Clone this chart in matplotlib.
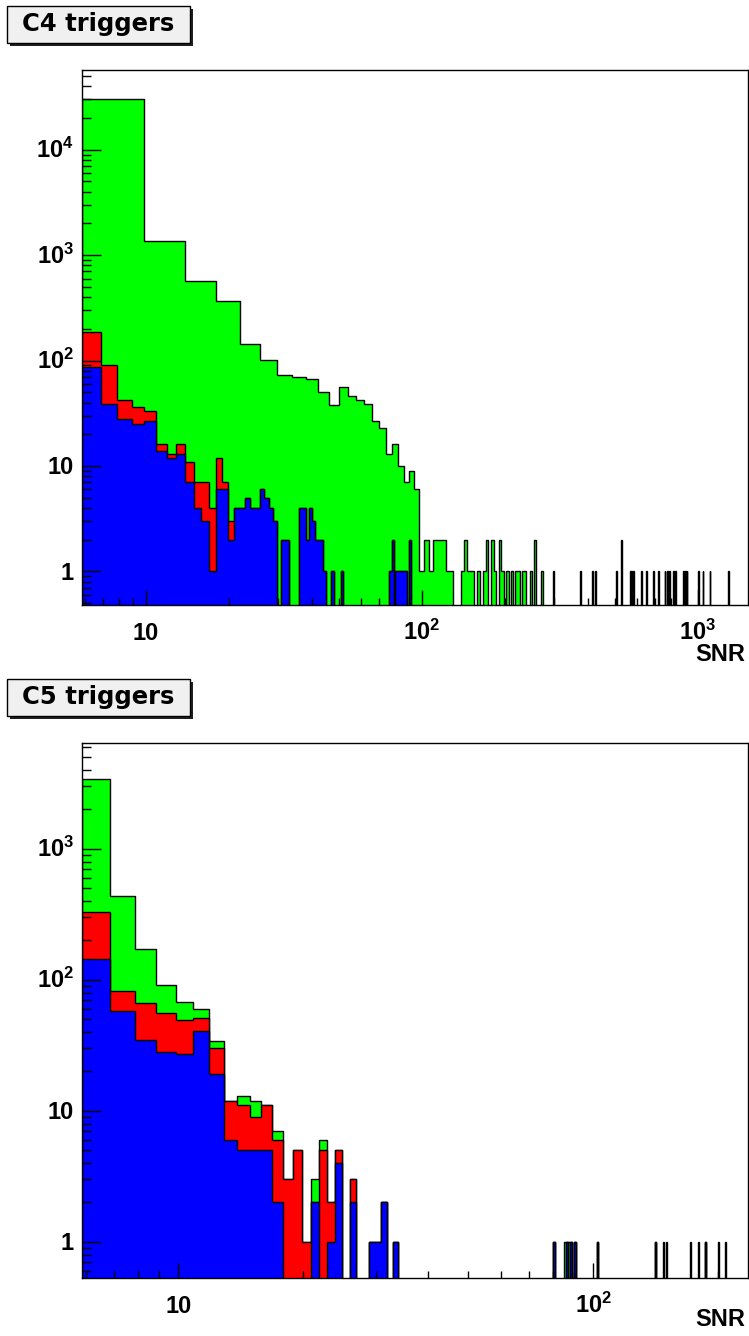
import numpy as np
import matplotlib
matplotlib.use("Agg")
import matplotlib.pyplot as plt
from matplotlib.ticker import FixedLocator, FixedFormatter, NullFormatter
from matplotlib.transforms import ScaledTranslation
from matplotlib.patches import Rectangle

plt.rcParams['font.family'] = ['Liberation Sans', 'DejaVu Sans']
plt.rcParams['font.weight'] = 'bold'
plt.rcParams['mathtext.fontset'] = 'custom'
plt.rcParams['mathtext.bf'] = 'Liberation Sans:bold'
plt.rcParams['mathtext.rm'] = 'Liberation Sans:bold'
plt.rcParams['mathtext.default'] = 'bf'

# ------------------------------------------------------------------ data
bin_start = 5.86          # lower edge of the first SNR bin

# ---- C4 triggers
c4_xlim = (5.86, 1517.0)
c4_ylim = (0.48, 57100.0)
c4_total_width = 4.0      # green histogram bin width (SNR)
c4_total_head = [30200, 1365, 571, 366, 144, 102, 73, 70, 67, 50, 38, 56,
                 46, 42, 39, 27, 23, 13, 16, 10, 7, 9, 6]
c4_total_tail_snr = [99.9, 103.9, 107.9, 111.9, 115.9, 119.9, 123.9, 127.9,
                     139.9, 143.9, 147.9, 151.9, 159.9, 167.9, 171.9, 179.9,
                     183.9, 191.9, 195.9, 203.9, 211.9, 219.9, 223.9, 231.9,
                     235.9, 247.9, 255.9, 271.9, 299.9,
                     376, 415, 424, 507, 529, 567, 575, 583, 625, 652, 689,
                     718, 759, 774, 787, 814, 826, 885, 898, 910, 1003, 1045,
                     1105, 1288]
c4_total_tail_n = [1, 2, 1, 2, 2, 2, 1, 1,
                   1, 2, 1, 1, 1, 1, 2, 2,
                   1, 2, 1, 1, 1, 1, 1, 1,
                   1, 1, 2, 1, 1,
                   1, 1, 1, 1, 2, 1, 1, 1, 1, 1, 1,
                   1, 1, 1, 1, 1, 1, 1, 1, 1, 1, 1,
                   1, 1]
c4_sub_width = 1.0        # red / blue bin width (SNR)
c4_red_head = [188, 90, 42, 36, 33, 16, 13, 16, 11, 7, 7, 4, 12, 7, 3,
               4, 4, 5, 4, 4, 6, 5, 4, 3, 0, 2, 2, 0, 0, 0,
               4, 4, 2, 4, 3, 2, 2, 2, 1, 0, 0, 1, 0, 0, 0, 1]
c4_blue_head = [86, 39, 28, 25, 27, 14, 12, 13, 7, 4, 3, 1, 6, 6, 2,
                4, 4, 5, 4, 4, 6, 5, 4, 3, 0, 2, 2, 0, 0, 0,
                4, 4, 2, 4, 3, 2, 2, 2, 1, 0, 0, 1, 0, 0, 0, 1]
c4_sub_tail_snr = [76.4, 77.4, 78.4, 80.4, 81.4, 82.4, 83.4, 84.4, 85.4,
                   86.4, 87.4, 90.4]
c4_sub_tail_n = [1, 1, 2, 1, 1, 1, 1, 1, 1, 1, 1, 2]
c4_xticks = [10, 100, 1000]
c4_xticklabels = ['10', r'$10^{2}$', r'$10^{3}$']
c4_yticks = [1, 10, 100, 1000, 10000]
c4_yticklabels = ['1', '10', r'$10^{2}$', r'$10^{3}$', r'$10^{4}$']

# ---- C5 triggers
c5_xlim = (5.86, 236.0)
c5_ylim = (0.53, 6430.0)
c5_width = 1.0
c5_green_head = [3430, 433, 173, 92, 68, 60, 34, 12, 13, 12, 11, 7, 3, 5, 1,
                 3, 6, 2, 5, 0, 3, 0, 0, 1, 1, 2, 0, 1]
c5_red_head = [330, 82, 67, 56, 49, 51, 30, 12, 11, 9, 11, 6, 3, 5, 1,
               2, 5, 2, 5, 0, 3, 0, 0, 1, 1, 2, 0, 1]
c5_blue_head = [145, 58, 35, 28, 27, 41, 19, 6, 5, 5, 5, 2, 0, 0, 0,
                2, 0, 1, 4, 0, 2, 0, 0, 1, 1, 2, 0, 1]
c5_tail_all_snr = [80.5, 86.4, 88.3, 90.7, 102.1, 141.8, 186.8]
c5_tail_green_snr = [85.6, 87.7, 147.7, 150.5, 171.3, 179.4, 200.5, 208.3]
c5_xticks = [10, 100]
c5_xticklabels = ['10', r'$10^{2}$']
c5_yticks = [1, 10, 100, 1000]
c5_yticklabels = ['1', '10', r'$10^{2}$', r'$10^{3}$']

titles = ['C4 triggers', 'C5 triggers']
x_title = 'SNR'
colors = {'all': '#00ff00', 'red': '#ff0000', 'blue': '#0000ff'}

# ------------------------------------------------------------------ helpers
FLOOR = 1e-3


def build(head, width, xmax, tail_snr=(), tail_n=None):
    nb = int(np.ceil((xmax - bin_start) / width))
    edges = bin_start + width * np.arange(nb + 1)
    counts = np.zeros(nb)
    counts[:len(head)] = head
    if len(tail_snr):
        w = np.ones(len(tail_snr)) if tail_n is None else np.asarray(tail_n, float)
        counts += np.histogram(tail_snr, bins=edges, weights=w)[0]
    return edges, counts


def draw_hist(ax, edges, counts, color):
    vals = np.where(counts > 0, counts, FLOOR)
    ax.stairs(vals, edges, baseline=FLOOR, fill=True, facecolor=color,
              edgecolor='black', linewidth=1.0)


def minor_locs(lo, hi):
    out = []
    for e in range(-1, 5):
        for m in range(2, 10):
            v = m * 10.0 ** e
            if lo < v < hi:
                out.append(v)
    return out


W, H = 749, 1336
fig = plt.figure(figsize=(W / 100, H / 100), dpi=100)


def setup(ax, xlim, ylim, xt, xtl, yt, ytl, label_y):
    ax.set_xscale('log')
    ax.set_yscale('log')
    ax.set_xlim(xlim)
    ax.set_ylim(ylim)
    ax.xaxis.set_major_locator(FixedLocator(xt))
    ax.xaxis.set_major_formatter(FixedFormatter(xtl))
    ax.xaxis.set_minor_locator(FixedLocator(minor_locs(*xlim)))
    ax.xaxis.set_minor_formatter(NullFormatter())
    ax.yaxis.set_major_locator(FixedLocator(yt))
    ax.yaxis.set_major_formatter(FixedFormatter(ytl))
    ax.yaxis.set_minor_locator(FixedLocator(minor_locs(*ylim)))
    ax.yaxis.set_minor_formatter(NullFormatter())
    ax.tick_params(which='both', direction='in', top=False, right=False,
                   width=1.0, color='black')
    ax.tick_params(axis='x', which='major', length=10.8, pad=25.0, labelsize=17)
    ax.tick_params(axis='x', which='minor', length=5.4)
    ax.tick_params(axis='y', which='major', length=13.9, pad=5.8, labelsize=17)
    ax.tick_params(axis='y', which='minor', length=6.8)
    for s in ax.spines.values():
        s.set_linewidth(1.0)
        s.set_zorder(5)
    for t in ax.xaxis.get_major_ticks():
        t.label1.set_va('baseline')
    off = ScaledTranslation(0, -8.5 / 100, fig.dpi_scale_trans)
    for t in ax.yaxis.get_major_ticks():
        t.label1.set_va('baseline')
        t.label1.set_transform(t.label1.get_transform() + off)
    ax.set_xlabel(x_title, fontsize=17, fontweight='bold', ha='right', va='baseline')
    ax.xaxis.set_label_coords(0.995, label_y)


def title_box(text, top_px):
    x0, w, h = 7, 183, 37
    sh = 2.6
    fig.add_artist(Rectangle(((x0 + sh) / W, 1 - (top_px + h + sh) / H), w / W, h / H,
                             transform=fig.transFigure, facecolor='#202020',
                             edgecolor='none', zorder=10))
    fig.add_artist(Rectangle((x0 / W, 1 - (top_px + h) / H), w / W, h / H,
                             transform=fig.transFigure, facecolor='#f0f0f0',
                             edgecolor='black', linewidth=1.0, zorder=11))
    fig.text((x0 + w / 2) / W, 1 - (top_px + 24.5) / H, text, ha='center',
             va='baseline', fontsize=17.5, fontweight='bold',
             family=['DejaVu Sans'], zorder=12)


ax_w = 666 / W
ax_h = 535 / H
ax1 = fig.add_axes([82 / W, 1 - 605 / H, ax_w, ax_h])
ax2 = fig.add_axes([82 / W, 1 - 1278 / H, ax_w, ax_h])

# ---- C4 panel
e, c = build(c4_total_head, c4_total_width, c4_xlim[1], c4_total_tail_snr, c4_total_tail_n)
draw_hist(ax1, e, c, colors['all'])
e, c = build(c4_red_head, c4_sub_width, 110, c4_sub_tail_snr, c4_sub_tail_n)
draw_hist(ax1, e, c, colors['red'])
e, c = build(c4_blue_head, c4_sub_width, 110, c4_sub_tail_snr, c4_sub_tail_n)
draw_hist(ax1, e, c, colors['blue'])
setup(ax1, c4_xlim, c4_ylim, c4_xticks, c4_xticklabels, c4_yticks, c4_yticklabels, -0.104)

# ---- C5 panel
e, c = build(c5_green_head, c5_width, c5_xlim[1],
             list(c5_tail_all_snr) + list(c5_tail_green_snr))
draw_hist(ax2, e, c, colors['all'])
e, c = build(c5_red_head, c5_width, c5_xlim[1], c5_tail_all_snr)
draw_hist(ax2, e, c, colors['red'])
e, c = build(c5_blue_head, c5_width, c5_xlim[1], c5_tail_all_snr)
draw_hist(ax2, e, c, colors['blue'])
setup(ax2, c5_xlim, c5_ylim, c5_xticks, c5_xticklabels, c5_yticks, c5_yticklabels, -0.089)

title_box(titles[0], 6)
title_box(titles[1], 679)

fig.savefig('out.png', dpi=100, facecolor='white')
